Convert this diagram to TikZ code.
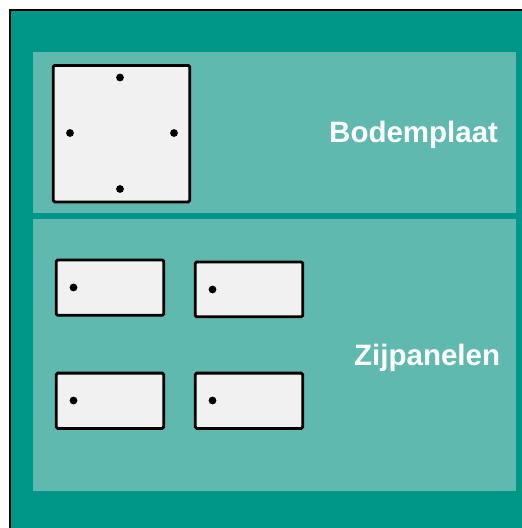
\documentclass[tikz,border=0pt]{standalone}
\usepackage{fontspec}
\setmainfont{Liberation Sans}
\definecolor{tealdark}{HTML}{009688}
\definecolor{teallight}{HTML}{5FB9AE}
\definecolor{boxgrey}{HTML}{F1F1F1}
\tikzset{
  x=1pt,y=-1pt,
  band/.style={fill=teallight,draw=none},
  plate/.style={draw=black,fill=boxgrey,line width=2.8pt,rounded corners=1.5pt},
  hole/.style={fill=black,draw=none},
  lbl/.style={text=white,font=\fontsize{29.5}{32}\selectfont\bfseries,inner sep=0pt,anchor=base west}
}
\begin{document}
\begin{tikzpicture}
\path[use as bounding box] (0,0) rectangle (522,528);
\fill[white] (0,0) rectangle (522,528);
\fill[tealdark] (10,10) rectangle (522,528);
\draw[black,line width=2pt] (10,528) -- (10,10) -- (522,10);
\path[band] (33.3,51.5) rectangle (516,213);
\path[band] (33.3,218.5) rectangle (516,491);
\draw[plate] (53.2,65.4) rectangle (189.8,201.9);
\foreach \p in {(120,77.5),(70,133),(174,133),(120,189)} \path[hole] \p circle (3.9);
\draw[plate] (56.2,259.9) rectangle (163.8,315.3);
\draw[plate] (195.2,261.9) rectangle (302.8,316.8);
\draw[plate] (56.2,373.1) rectangle (163.8,428.4);
\draw[plate] (195.2,373.1) rectangle (302.8,428.4);
\foreach \p in {(73.5,287.5),(212.5,289.5),(73.5,400.5),(212.5,400.5)} \path[hole] \p circle (3.9);
\node[lbl] (bodem) at (329,142.5) {Bodemplaat};
\node[lbl] (zij) at (354,365) {Zijpanelen};
\end{tikzpicture}
\end{document}
